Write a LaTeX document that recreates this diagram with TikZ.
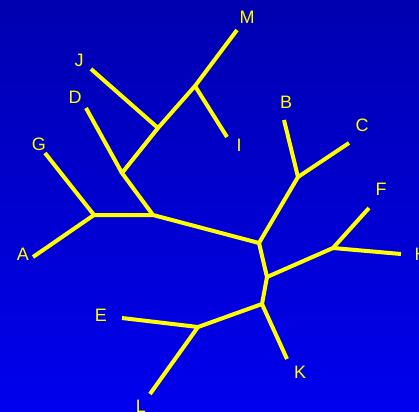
\documentclass[tikz,border=0pt]{standalone}
\usepackage{fontspec}
\setmainfont{Liberation Sans}
\definecolor{bgtop}{RGB}{0,0,176}
\definecolor{bgbot}{RGB}{0,0,238}
\definecolor{treey}{RGB}{255,255,0}
\begin{document}
\begin{tikzpicture}[x=1pt,y=-1pt,
  edge/.style={draw=treey,line width=4pt},
  lab/.style={text=treey,font=\fontsize{18}{18}\selectfont,inner sep=0pt}]
\shade[top color=bgtop,bottom color=bgbot] (0,0) rectangle (419,411);
\useasboundingbox (0,0) rectangle (419,411);
% internal points
\coordinate (n1) at (195,86);
\coordinate (n2) at (158,128);
\coordinate (n3) at (122,173);
\coordinate (n4) at (153,215);
\coordinate (n5) at (94,215);
\coordinate (n6) at (259,243);
\coordinate (n7) at (298,177);
\coordinate (n8) at (267,277);
\coordinate (n9) at (333,248);
\coordinate (n10) at (262,304);
\coordinate (n11) at (198,327);
% leaf ends
\coordinate (eM) at (237,30);
\coordinate (eJ) at (91,69);
\coordinate (eD) at (86,108);
\coordinate (eG) at (45,153);
\coordinate (eA) at (33,257);
\coordinate (eI) at (227,137);
\coordinate (eB) at (284,120);
\coordinate (eC) at (349,143);
\coordinate (eF) at (369,208);
\coordinate (eH) at (401,254);
\coordinate (eE) at (122,318);
\coordinate (eL) at (150,394);
\coordinate (eK) at (287,359);
% edges
\draw[edge] (eM) -- (n1) -- (n2) -- (n3) -- (n4) -- (n6) -- (n8) -- (n10) -- (n11) -- (eL);
\draw[edge] (n1) -- (eI);
\draw[edge] (n2) -- (eJ);
\draw[edge] (n3) -- (eD);
\draw[edge] (n4) -- (n5) -- (eA);
\draw[edge] (n5) -- (eG);
\draw[edge] (n6) -- (n7) -- (eB);
\draw[edge] (n7) -- (eC);
\draw[edge] (n8) -- (n9) -- (eF);
\draw[edge] (n9) -- (eH);
\draw[edge] (n11) -- (eE);
\draw[edge] (n10) -- (eK);
% labels
\node[lab] (lM) at (247,17) {M};
\node[lab] (lJ) at (79,60) {J};
\node[lab] (lD) at (75,97) {D};
\node[lab] (lG) at (39,144) {G};
\node[lab] (lA) at (23,254) {A};
\node[lab] (lI) at (239,145) {I};
\node[lab] (lB) at (286,102) {B};
\node[lab] (lC) at (362,125) {C};
\node[lab] (lF) at (381,189) {F};
\node[lab] (lH) at (421,254) {H};
\node[lab] (lE) at (101,315) {E};
\node[lab] (lL) at (141,406) {L};
\node[lab] (lK) at (300,372) {K};
\end{tikzpicture}
\end{document}
